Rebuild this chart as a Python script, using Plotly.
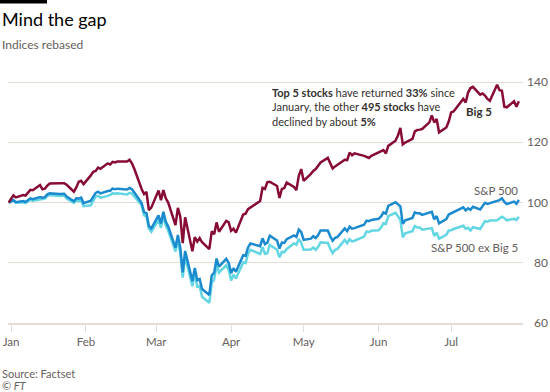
import plotly.graph_objects as go

# ---------------- data ----------------
dates = [
    "2019-12-31",
    # Jan
    "2020-01-02", "2020-01-03", "2020-01-06", "2020-01-07", "2020-01-08", "2020-01-09", "2020-01-10",
    "2020-01-13", "2020-01-14", "2020-01-15", "2020-01-16", "2020-01-17", "2020-01-21", "2020-01-22",
    "2020-01-23", "2020-01-24", "2020-01-27", "2020-01-28", "2020-01-29", "2020-01-30", "2020-01-31",
    # Feb
    "2020-02-03", "2020-02-04", "2020-02-05", "2020-02-06", "2020-02-07", "2020-02-10", "2020-02-11",
    "2020-02-12", "2020-02-13", "2020-02-14", "2020-02-18", "2020-02-19", "2020-02-20", "2020-02-21",
    "2020-02-24", "2020-02-25", "2020-02-26", "2020-02-27", "2020-02-28",
    # Mar
    "2020-03-02", "2020-03-03", "2020-03-04", "2020-03-05", "2020-03-06", "2020-03-09", "2020-03-10",
    "2020-03-11", "2020-03-12", "2020-03-13", "2020-03-16", "2020-03-17", "2020-03-18", "2020-03-19",
    "2020-03-20", "2020-03-23", "2020-03-24", "2020-03-25", "2020-03-26", "2020-03-27", "2020-03-30",
    "2020-03-31",
    # Apr
    "2020-04-01", "2020-04-02", "2020-04-03", "2020-04-06", "2020-04-07", "2020-04-08", "2020-04-09",
    "2020-04-13", "2020-04-14", "2020-04-15", "2020-04-16", "2020-04-17", "2020-04-20", "2020-04-21",
    "2020-04-22", "2020-04-23", "2020-04-24", "2020-04-27", "2020-04-28", "2020-04-29", "2020-04-30",
    # May
    "2020-05-01", "2020-05-04", "2020-05-05", "2020-05-06", "2020-05-07", "2020-05-08", "2020-05-11",
    "2020-05-12", "2020-05-13", "2020-05-14", "2020-05-15", "2020-05-18", "2020-05-19", "2020-05-20",
    "2020-05-21", "2020-05-22", "2020-05-26", "2020-05-27", "2020-05-28", "2020-05-29",
    # Jun
    "2020-06-01", "2020-06-02", "2020-06-03", "2020-06-04", "2020-06-05", "2020-06-08", "2020-06-09",
    "2020-06-10", "2020-06-11", "2020-06-12", "2020-06-15", "2020-06-16", "2020-06-17", "2020-06-18",
    "2020-06-19", "2020-06-22", "2020-06-23", "2020-06-24", "2020-06-25", "2020-06-26", "2020-06-29",
    "2020-06-30",
    # Jul
    "2020-07-01", "2020-07-02", "2020-07-06", "2020-07-07", "2020-07-08", "2020-07-09", "2020-07-10",
    "2020-07-13", "2020-07-14", "2020-07-15", "2020-07-16", "2020-07-17", "2020-07-20", "2020-07-21",
    "2020-07-22", "2020-07-23", "2020-07-24", "2020-07-27", "2020-07-28", "2020-07-29",
]

big5 = [
    100.0,
    102.4, 101.7, 102.5, 102.3, 103.1, 104.2, 104.1, 105.8, 104.4, 104.6, 105.6, 106.3, 106.4, 106.4,
    106.4, 105.9, 103.6, 105.0, 106.9, 107.2, 106.1,
    109.0, 110.2, 110.5, 111.6, 111.2, 113.0, 112.6, 113.5, 113.3, 113.6, 113.6, 114.2, 113.0, 111.1,
    104.5, 102.8, 103.5, 97.5, 98.3,
    104.0, 100.8, 104.1, 101.4, 100.0, 92.5, 98.2, 95.3, 86.5, 95.1, 83.8, 88.5, 87.0, 88.2,
    86.8, 84.5, 90.4, 89.5, 93.4, 90.3, 93.9, 93.4,
    90.6, 91.3, 90.0, 96.0, 96.3, 97.8, 98.3, 100.5, 104.9, 104.5, 106.8, 106.9, 105.5, 101.5,
    104.5, 104.8, 106.6, 105.2, 104.1, 108.9, 111.1,
    107.2, 109.5, 110.5, 111.1, 112.2, 113.3, 114.8, 113.0, 111.3, 112.0, 112.5, 114.2, 114.1, 116.6,
    115.7, 116.3, 115.5, 115.2, 114.8, 115.5,
    116.6, 117.2, 117.4, 116.3, 118.8, 120.5, 122.2, 124.8, 119.3, 119.9, 121.1, 123.6, 124.1, 124.2,
    124.4, 126.6, 128.9, 126.6, 127.7, 123.3, 124.9, 126.9,
    129.9, 130.2, 134.4, 133.2, 136.5, 138.0, 138.4, 135.8, 136.2, 135.5, 134.4, 133.8, 139.1, 137.3,
    137.1, 131.8, 131.6, 133.6, 131.8, 133.6,
]

sp500 = [
    100.0,
    100.8, 100.1, 100.5, 100.2, 100.7, 101.4, 101.1, 101.8, 101.6, 101.8, 102.7, 103.1, 102.8, 102.8,
    102.9, 102.0, 100.4, 101.4, 101.3, 101.6, 99.8,
    100.6, 102.1, 103.2, 103.6, 103.0, 103.8, 103.9, 104.6, 104.4, 104.6, 104.3, 104.8, 104.4, 103.3,
    99.8, 96.8, 96.5, 92.2, 91.4,
    95.7, 93.0, 96.9, 93.6, 92.0, 85.0, 89.2, 84.9, 76.8, 83.9, 73.9, 78.3, 74.2, 74.6,
    71.3, 69.3, 75.8, 76.6, 81.4, 78.7, 81.3, 80.0,
    76.5, 78.2, 77.0, 82.5, 82.3, 85.1, 86.4, 85.5, 88.1, 86.2, 86.7, 89.0, 87.4, 84.7,
    86.7, 86.6, 87.8, 89.1, 88.6, 91.0, 90.2,
    87.6, 88.0, 88.8, 88.2, 89.2, 90.7, 90.7, 88.8, 87.3, 88.3, 88.6, 91.4, 90.5, 92.0,
    91.3, 91.5, 92.6, 94.0, 93.8, 94.2,
    94.6, 95.4, 96.7, 96.3, 98.9, 100.1, 99.3, 98.7, 92.9, 94.1, 94.9, 96.7, 96.4, 96.4,
    95.9, 96.5, 96.9, 94.4, 95.5, 93.1, 94.5, 96.0,
    96.4, 96.9, 98.4, 97.4, 98.1, 97.6, 98.6, 97.7, 99.0, 99.9, 99.5, 99.8, 100.7, 100.8,
    101.4, 100.2, 99.5, 100.3, 99.6, 100.9,
]

sp500_ex = [
    100.0,
    100.6, 99.9, 100.1, 99.8, 100.3, 100.9, 100.6, 101.1, 101.2, 101.3, 102.2, 102.5, 102.2, 102.2,
    102.3, 101.3, 99.9, 100.8, 100.4, 100.7, 98.8,
    99.1, 100.7, 102.0, 102.2, 101.6, 102.2, 102.5, 103.1, 102.9, 103.1, 102.7, 103.2, 103.0, 102.0,
    99.1, 95.8, 95.3, 91.3, 90.3,
    94.2, 91.6, 95.7, 92.3, 90.6, 83.7, 87.7, 83.1, 75.1, 82.0, 72.2, 76.5, 72.1, 72.3,
    68.7, 66.7, 73.3, 74.4, 79.4, 76.7, 79.2, 77.7,
    74.1, 76.0, 74.8, 80.1, 79.9, 83.0, 84.3, 82.9, 85.2, 83.0, 83.2, 85.9, 84.3, 81.8,
    83.6, 83.5, 84.6, 86.4, 86.0, 87.9, 86.6,
    84.3, 84.4, 85.1, 84.3, 85.3, 86.8, 86.6, 84.7, 83.2, 84.3, 84.6, 87.6, 86.5, 87.8,
    87.1, 87.3, 88.7, 90.4, 90.2, 90.6,
    90.8, 91.7, 93.1, 92.9, 95.5, 96.6, 95.4, 94.3, 88.4, 89.8, 90.5, 92.2, 91.7, 91.7,
    91.0, 91.4, 91.5, 88.9, 90.0, 88.0, 89.3, 90.7,
    90.8, 91.2, 92.3, 91.3, 91.6, 90.7, 91.8, 91.2, 92.6, 93.8, 93.6, 94.0, 94.1, 94.6,
    95.3, 94.8, 94.1, 94.6, 94.2, 95.3,
]

month_ticks = ["2020-01-01", "2020-02-01", "2020-03-01", "2020-04-01",
               "2020-05-01", "2020-06-01", "2020-07-01"]
month_labels = ["Jan", "Feb", "Mar", "Apr", "May", "Jun", "Jul"]
y_ticks = [60, 80, 100, 120, 140]
y_labels = ["\u200760", "\u200780", "100", "120", "140"]

# ---------------- style ----------------
FONT = "Lato"
DARK = "#33302e"
GREY = "#66605c"
GRID = "#e4ddd6"
C_BIG5 = "#870c35"
C_SP = "#1c8ace"
C_EX = "#62d6e2"

W, H = 550, 392
ML, MR, MT, MB = 8, 27, 76, 69
PW = W - ML - MR
PH = H - MT - MB


def px(x):
    return (x - ML) / PW


def py(y):
    return (H - MB - y) / PH


fig = go.Figure()
for name, vals, col in [("S&P 500 ex Big 5", sp500_ex, C_EX),
                        ("S&P 500", sp500, C_SP),
                        ("Big 5", big5, C_BIG5)]:
    fig.add_trace(go.Scatter(x=dates, y=vals, mode="lines", name=name,
                             line=dict(color=col, width=2.5), hoverinfo="skip"))

annotations = [
    dict(text="Mind the gap", x=px(0), y=py(19), xanchor="left", yanchor="middle",
         font=dict(size=18, color="#000000", family=FONT)),
    dict(text="Indices rebased", x=px(0), y=py(44), xanchor="left", yanchor="middle",
         font=dict(size=12, color=GREY, family=FONT)),
    dict(text="<b>Top 5 stocks</b> have returned <b>33%</b> since<br>January, the other <b>495 stocks</b> have<br>declined by about <b>5%</b>",
         x=px(270), y=py(107), xanchor="left", yanchor="middle", align="left",
         font=dict(size=11, color=DARK, family=FONT)),
    dict(text="<b>Big 5</b>", x=px(494), y=py(111), xanchor="right", yanchor="middle",
         font=dict(size=11.5, color=DARK, family=FONT)),
    dict(text="S&P 500", x=px(520), y=py(190), xanchor="right", yanchor="middle",
         font=dict(size=11.5, color=GREY, family=FONT)),
    dict(text="S&P 500 ex Big 5", x=px(520), y=py(247), xanchor="right", yanchor="middle",
         font=dict(size=11.5, color=GREY, family=FONT)),
    dict(text="Source: Factset", x=px(0), y=py(373), xanchor="left", yanchor="middle",
         font=dict(size=11, color=GREY, family=FONT)),
    dict(text="<i>© FT</i>", x=px(0), y=py(385), xanchor="left", yanchor="middle",
         font=dict(size=11, color=GREY, family=FONT)),
]
for a in annotations:
    a.update(xref="paper", yref="paper", showarrow=False)

fig.update_layout(
    width=W, height=H,
    margin=dict(l=ML, r=MR, t=MT, b=MB, autoexpand=False),
    paper_bgcolor="white", plot_bgcolor="white",
    showlegend=False, hovermode=False,
    font=dict(family=FONT, color=GREY, size=12),
    annotations=annotations,
    shapes=[dict(type="rect", xref="paper", yref="paper",
                 x0=px(0), x1=px(47), y0=py(3.5), y1=py(0),
                 fillcolor="black", line=dict(width=0))],
    xaxis=dict(type="date", range=["2019-12-30 18:00", "2020-07-30 17:00"],
               automargin=False,
               tickvals=month_ticks, ticktext=month_labels,
               ticks="outside", ticklen=7, tickwidth=1, tickcolor=GRID,
               showline=True, linecolor=GRID, linewidth=1.5,
               showgrid=False, zeroline=False,
               tickfont=dict(size=11.5, color=GREY, family=FONT)),
    yaxis=dict(range=[60, 142], side="right", automargin=False,
               tickvals=y_ticks, ticktext=y_labels,
               showgrid=True, gridcolor=GRID, gridwidth=1.2,
               zeroline=False, showline=False, ticks="",
               ticklabelstandoff=3,
               tickfont=dict(size=12, color=GREY, family=FONT)),
)

fig.write_html("out.html", config={"displayModeBar": False},
               post_script="document.body.style.margin='0px';")
